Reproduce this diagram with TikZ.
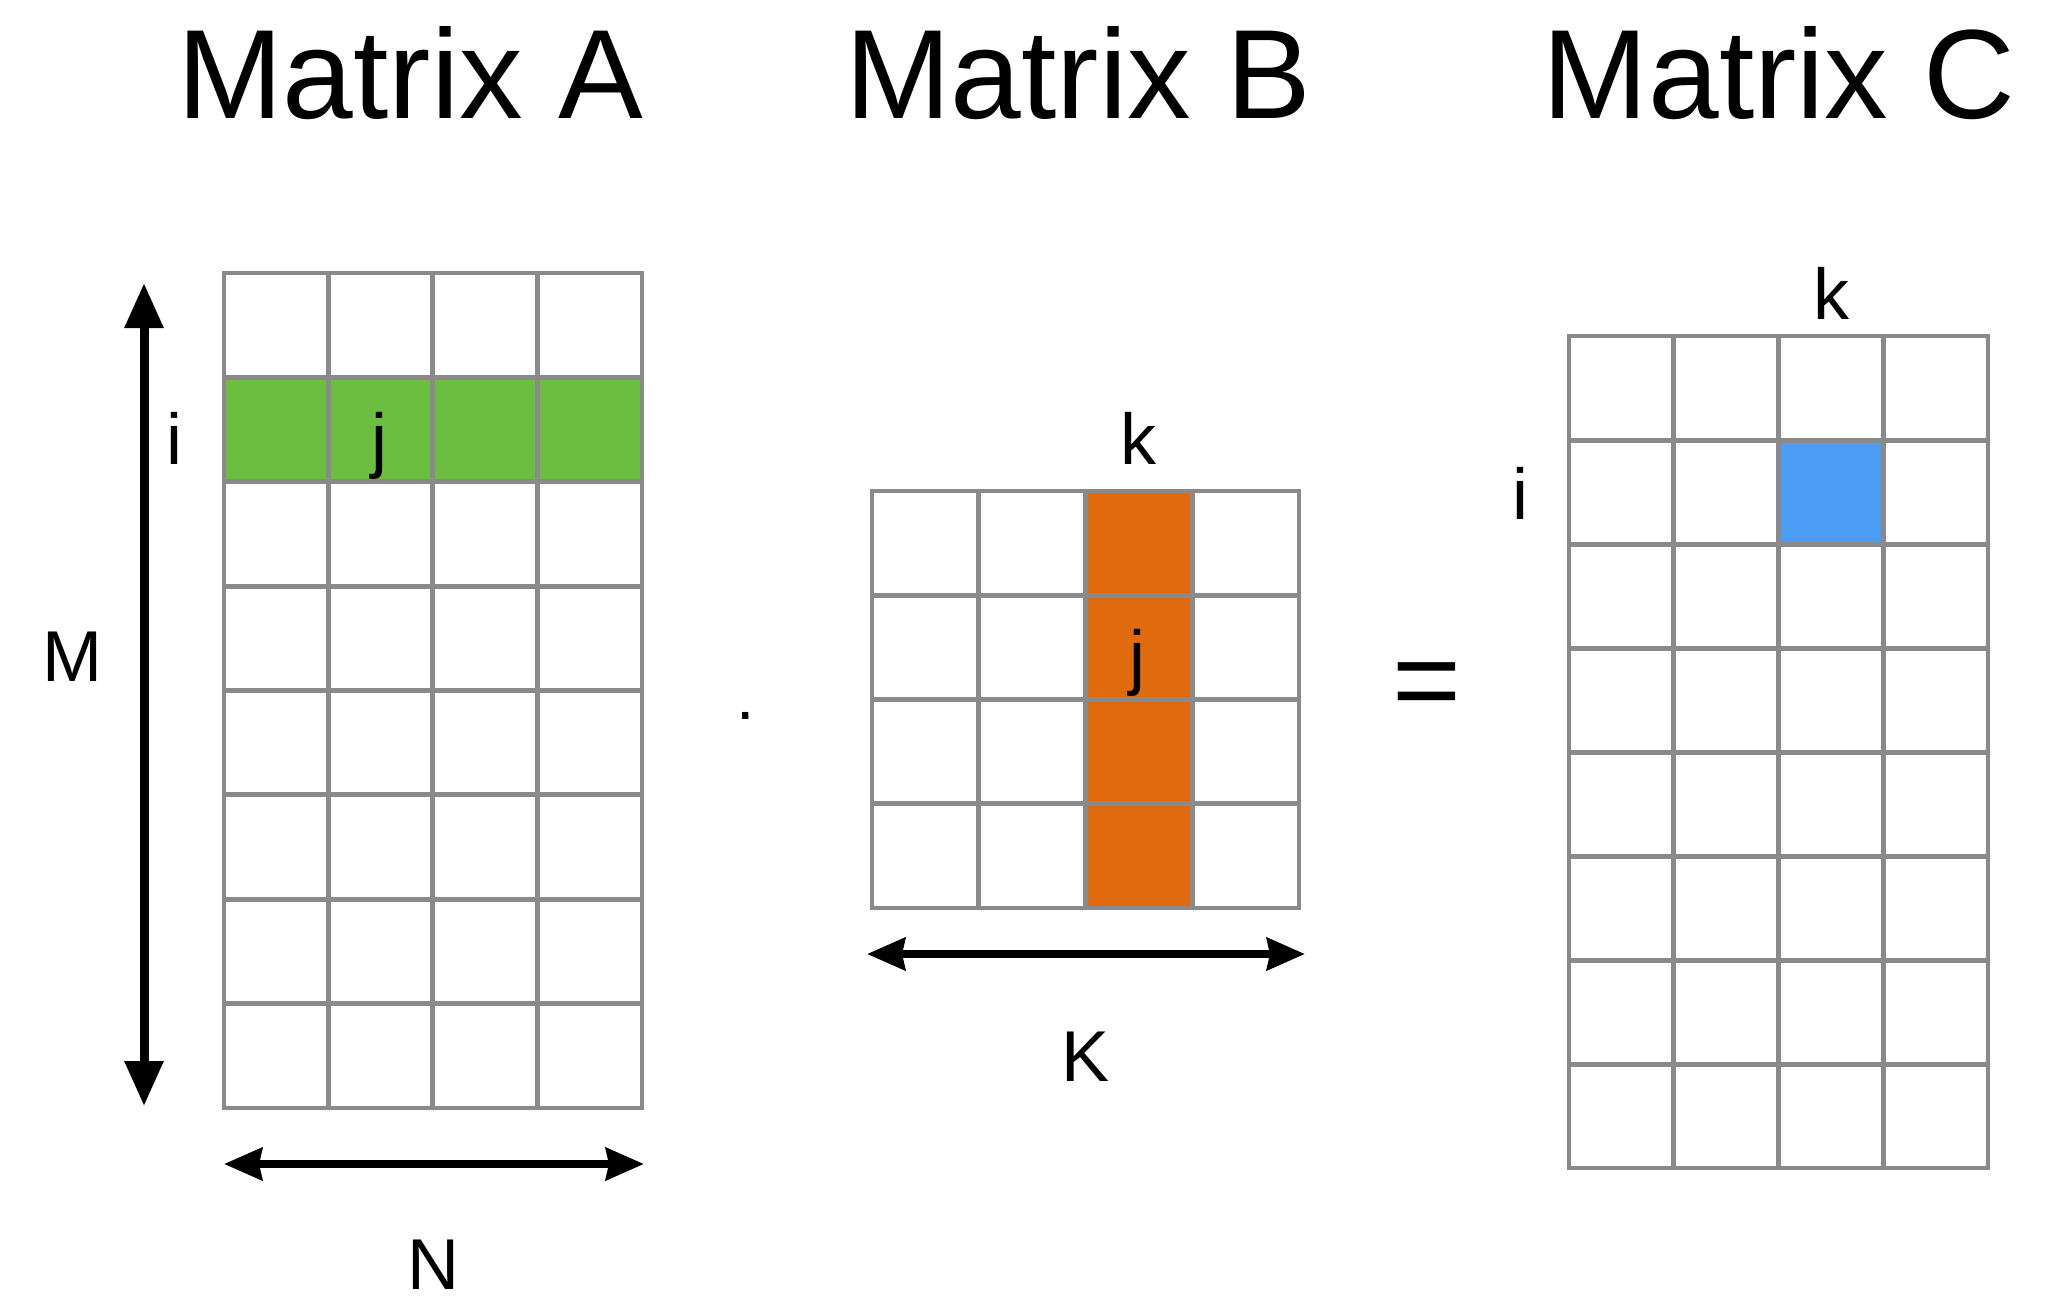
\documentclass[tikz,border=0pt]{standalone}
\usepackage{fontspec}
\setmainfont{Liberation Sans}
\usetikzlibrary{arrows.meta}
\definecolor{gridgray}{HTML}{8A8A8C}
\definecolor{agreen}{HTML}{6BBE3F}
\definecolor{borange}{HTML}{DF6B0E}
\definecolor{cblue}{HTML}{4A9DF2}
\begin{document}
\begin{tikzpicture}[x=1pt,y=-1pt,
  title/.style={font=\fontsize{127}{130}\selectfont, inner sep=0pt, anchor=base},
  lbl/.style={font=\fontsize{72}{76}\selectfont, inner sep=0pt, anchor=base},
  gridline/.style={draw=gridgray, line width=5pt},
  gridborder/.style={draw=gridgray, line width=4pt},
  dimarrow/.style={line width=8pt, {Stealth[length=38pt,width=32pt,inset=3pt]}-{Stealth[length=38pt,width=32pt,inset=3pt]}},
  vdimarrow/.style={line width=9pt, {Triangle[length=45pt,width=37pt]}-{Triangle[length=45pt,width=37pt]}}]
\useasboundingbox (0,0) rectangle (2049,1303);

% titles
\node[title] (tA) at (410,118) {Matrix A};
\node[title] (tB) at (1078,118) {Matrix B};
\node[title] (tC) at (1779,118) {Matrix C};

% Matrix A (4 x 8)
\fill[agreen] (223.5,377.4) rectangle (641.6,481.8);
\foreach \i in {1,...,3} \draw[gridline] ({223.5+104.525*\i},273) -- ++(0,835);
\foreach \j in {1,...,7} \draw[gridline] (223.5,{273+104.375*\j}) -- ++(418.1,0);
\draw[gridborder] (223.5,273) rectangle (641.6,1108);

% Matrix B (4 x 4)
\fill[borange] (1085.6,491) rectangle (1192.4,908);
\foreach \i in {1,...,3} \draw[gridline] ({872+106.75*\i},491) -- ++(0,417);
\foreach \j in {1,...,3} \draw[gridline] (872,{491+104.25*\j}) -- ++(427,0);
\draw[gridborder] (872,491) rectangle (1299,908);

% Matrix C (4 x 8)
\fill[cblue] (1778.4,440) rectangle (1883.1,544);
\foreach \i in {1,...,3} \draw[gridline] ({1569+104.75*\i},336) -- ++(0,832);
\foreach \j in {1,...,7} \draw[gridline] (1569,{336+104*\j}) -- ++(419,0);
\draw[gridborder] (1569,336) rectangle (1988,1168);

% dimension arrows
\coordinate (mtop) at (144,283);
\coordinate (mbot) at (144,1106);
\draw[vdimarrow] (mtop) -- (mbot);
\coordinate (nl) at (224,1164);
\coordinate (nr) at (644,1164);
\draw[dimarrow] (nl) -- (nr);
\coordinate (kl) at (867,954);
\coordinate (kr) at (1305,954);
\draw[dimarrow] (kl) -- (kr);

% labels
\node[lbl] (iA) at (174,464) {i};
\node[lbl] (jA) at (379,464) {j};
\node[lbl] (lM) at (72,681) {M};
\node[lbl] (lN) at (433,1289) {N};
\node[lbl] (kB) at (1138,464) {k};
\node[lbl] (jB) at (1137,681) {j};
\node[lbl] (lK) at (1085,1081) {K};
\node[lbl] (kC) at (1831,319) {k};
\node[lbl] (iC) at (1520,519) {i};

% operators
\node[font=\fontsize{66}{70}\selectfont, inner sep=0pt] (dot) at (746,716) {.};
\node[font=\fontsize{118}{118}\selectfont, inner sep=0pt] (eq) at (1427,692) {=};
\end{tikzpicture}
\end{document}
